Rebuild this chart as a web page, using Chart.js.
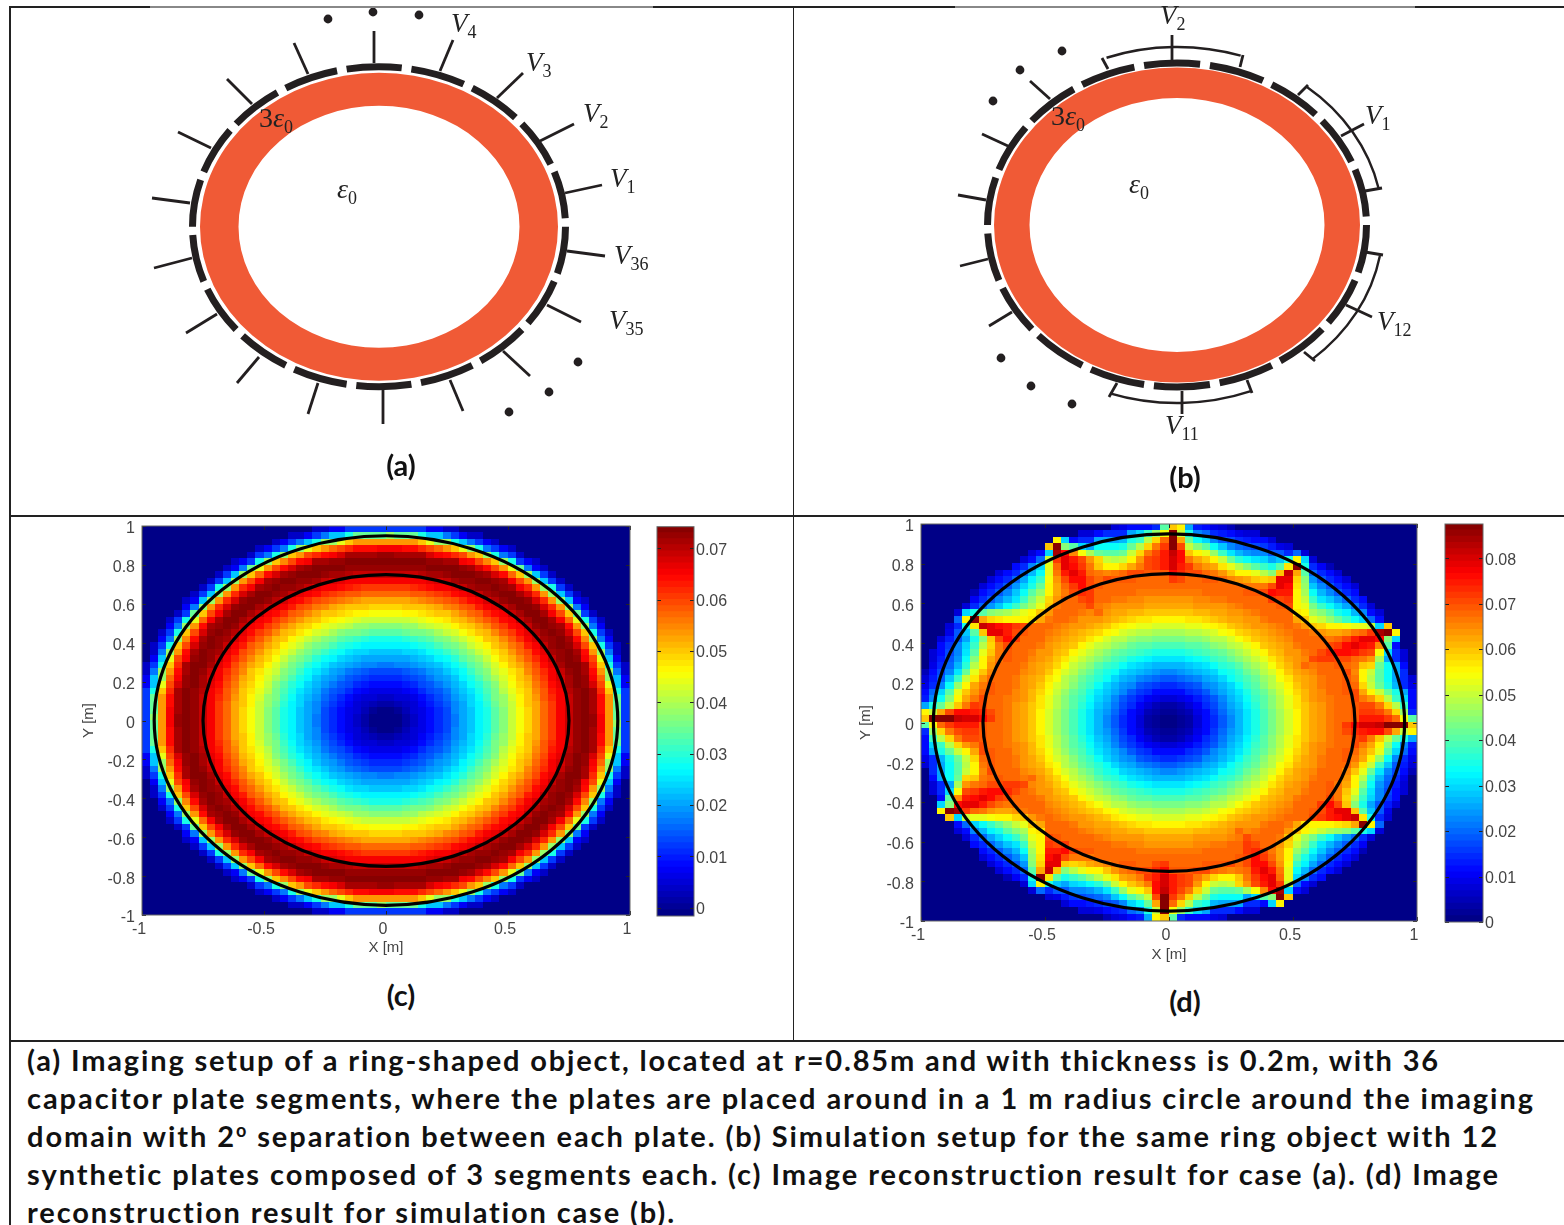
<!DOCTYPE html>
<html><head><meta charset="utf-8">
<script src="https://cdn.jsdelivr.net/npm/chart.js@4/dist/chart.umd.js"></script>
<style>
html,body{margin:0;padding:0;background:#fff}
body{width:1564px;height:1225px;position:relative;overflow:hidden}
canvas{position:absolute;display:block}
.rule{position:absolute;background:#222}
.m{position:absolute;font-family:"Liberation Serif",serif;font-size:27px;line-height:1;color:#222;white-space:nowrap}
.m i{font-style:italic}
.m span{font-size:18px;position:relative;top:6px;margin-left:0}
.tag{position:absolute;font-family:Lato,sans-serif;font-weight:700;font-size:29px;line-height:1;color:#111;transform:translate(-50%,-50%);white-space:nowrap}
.cap{position:absolute;left:27px;font-family:Lato,sans-serif;font-weight:700;font-size:29px;line-height:1;color:#111;white-space:nowrap;transform:translateY(-50%)}
.cap sup{font-size:18px;line-height:0;vertical-align:10px}
</style></head><body>
<script>
/* ---------- data ---------- */
const plateCentres=[11.5,31.5,51.5,71.5,91.5,111.5,131.5,151.5,171.5,191.5,211.5,231.5,251.5,271.5,291.5,311.5,331.5,351.5];
const plateHalfSpan=8.5;
const wiresA=[[374,63,374,31],[308,74,294,43],[252,104,227,79],[211,148,178,132],[190,203,152,198],[192,258,154,268],[217,314,186,333],[259,357,237,383],[318,383,308,414],[383,390,383,424],[450,380,463,411],[503,351,530,376],[547,305,581,322],[567,251,605,256],[565,193,602,185],[540,141,574,124],[497,98,523,73],[440,71,453,40]];
const dotsA=[[328,19],[373,12],[419,15],[578,362],[549,392],[509,412]];
const wiresB=[[1172,63,1172,35],[1050,99,1030,81],[1008,146,982,134],[986,200,958,195],[988,259,960,266],[1012,312,989,326],[1182,391,1182,414],[1346,305,1372,317],[1341,136,1364,124],
 [1108,69,1102,58],[1243,55,1240,67],[1298,95,1308,85],[1382,188,1365,191],[1365,252,1383,255],[1315,361,1304,352],[1117,383,1109,397],[1252,393,1247,380]];
const dotsB=[[993,101],[1020,70],[1062,51],[1001,358],[1031,386],[1072,404]];
const bracketArcs=[[72,110],[12,51],[-49,-10],[-109,-69]];
const ringA={cx:379,cy:226.7,outer:[179,154],inner:[140.5,121],plates:[186.5,160]};
const ringB={cx:1177,cy:225,outer:[183,157.5],inner:[147.5,127],plates:[189.5,162],brackets:[206,178]};
const circleRadii=[0.95,0.75];
const xTicks=[-1,-0.5,0,0.5,1];
const yTicks=[-1,-0.8,-0.6,-0.4,-0.2,0,0.2,0.4,0.6,0.8,1];

/* upper-left quadrant of each reconstruction, rows top to centre, columns edge to centre, values x 1000 */
const fieldC=[
[0,0,0,0,0,0,0,0,0,0,0,0,0,0,0,0,0,0,0,0,0,5,5,9,9,13,13,13,13,13],
[0,0,0,0,0,0,0,0,0,0,0,0,0,0,0,0,0,0,5,5,9,13,18,24,24,30,35,35,35,35],
[0,0,0,0,0,0,0,0,0,0,0,0,0,0,0,0,5,9,13,18,24,30,39,39,45,50,54,54,54,54],
[0,0,0,0,0,0,0,0,0,0,0,0,0,0,5,9,13,18,30,39,45,50,54,57,60,62,64,64,64,65],
[0,0,0,0,0,0,0,0,0,0,0,0,0,5,13,18,30,39,50,54,60,62,64,66,68,71,71,71,71,72],
[0,0,0,0,0,0,0,0,0,0,0,5,9,13,30,39,50,55,60,64,66,71,71,73,73,74,74,74,74,74],
[0,0,0,0,0,0,0,0,0,0,5,9,18,35,45,54,60,64,68,71,73,74,74,74,74,73,73,73,73,73],
[0,0,0,0,0,0,0,0,0,5,13,24,39,50,57,64,68,71,73,74,74,74,73,71,71,70,69,69,69,69],
[0,0,0,0,0,0,0,0,5,13,24,39,54,60,65,71,73,74,74,73,72,71,69,68,67,66,65,65,65,65],
[0,0,0,0,0,0,0,5,13,30,39,54,62,66,71,73,74,73,72,71,69,67,65,65,64,63,62,61,61,61],
[0,0,0,0,0,0,5,13,24,39,54,62,68,71,74,74,73,71,69,67,65,64,62,61,60,59,58,57,57,57],
[0,0,0,0,0,5,9,24,39,54,62,68,73,74,74,72,70,68,65,64,62,60,58,57,56,55,54,53,53,53],
[0,0,0,0,0,9,18,39,54,62,68,73,74,74,71,69,67,65,63,60,58,56,55,53,52,51,50,50,49,49],
[0,0,0,0,5,13,35,50,60,66,71,74,74,71,69,66,64,62,59,57,55,53,51,50,49,48,47,47,46,46],
[0,0,0,5,13,30,45,57,65,71,74,74,71,69,66,64,61,58,56,54,52,50,48,47,46,45,43,42,42,42],
[0,0,0,9,18,39,54,64,71,73,74,72,69,66,64,61,58,55,53,50,49,47,45,43,42,41,39,39,38,38],
[0,0,5,13,30,50,60,68,73,74,73,70,67,64,61,58,55,52,50,48,46,43,42,40,38,37,36,35,34,34],
[0,0,9,18,39,55,64,71,74,73,71,68,65,62,58,55,52,50,47,45,42,40,38,36,34,33,32,31,30,30],
[0,5,13,30,50,60,68,73,74,72,69,65,63,59,56,53,50,47,45,42,39,37,35,33,31,29,28,27,27,27],
[0,5,18,39,54,64,71,74,73,71,67,64,60,57,54,50,48,45,42,39,37,34,32,29,28,26,25,25,24,24],
[0,9,24,45,60,66,73,74,72,69,65,62,58,55,52,49,46,42,39,37,34,31,28,27,25,24,23,22,21,21],
[5,13,30,50,62,71,74,74,71,67,64,60,56,53,50,47,43,40,37,34,31,28,26,24,23,21,20,19,19,18],
[5,18,39,54,64,71,74,73,69,65,62,58,55,51,48,45,42,38,35,32,28,26,24,22,20,18,17,16,15,15],
[9,24,39,57,66,73,74,71,68,65,61,57,53,50,47,43,40,36,33,29,27,24,22,20,18,16,14,13,12,12],
[9,24,45,60,68,73,74,71,67,64,60,56,52,49,46,42,38,34,31,28,25,23,20,18,16,14,12,11,10,10],
[13,30,50,62,71,74,73,70,66,63,59,55,51,48,45,41,37,33,29,26,24,21,18,16,14,12,10,9,8,7],
[13,35,54,64,71,74,73,69,65,62,58,54,50,47,43,39,36,32,28,25,23,20,17,14,12,10,8,6,6,5],
[13,35,54,64,71,74,73,69,65,61,57,53,50,47,42,39,35,31,27,25,22,19,16,13,11,9,6,5,4,3],
[13,35,54,65,71,74,73,69,65,61,57,53,49,46,42,38,34,30,27,24,21,19,15,12,10,8,6,4,2,1],
[13,39,54,65,72,74,73,69,65,61,57,53,49,46,42,38,34,30,27,24,21,18,15,12,10,7,5,3,1,0]];
const fieldD=[
[0,0,0,0,0,0,0,0,0,0,0,0,0,0,0,0,0,0,0,0,0,0,0,7,9,11,11,12,15,40],
[0,0,0,0,0,0,0,0,0,0,0,0,0,0,0,0,0,0,0,7,7,11,15,15,15,25,30,38,46,54],
[0,0,0,0,0,0,0,0,0,0,0,0,0,0,0,0,55,30,12,15,15,25,25,25,27,35,38,48,58,68],
[0,0,0,0,0,0,0,0,0,0,0,0,0,0,0,60,87,45,40,30,25,33,33,33,35,42,48,58,66,72],
[0,0,0,0,0,0,0,0,0,0,0,0,0,7,11,30,84,76,65,54,47,42,40,40,42,50,58,66,70,74],
[0,0,0,0,0,0,0,0,0,0,0,0,7,11,20,50,72,78,74,70,64,58,50,48,50,56,64,70,72,74],
[0,0,0,0,0,0,0,0,0,0,0,11,15,22,30,52,68,78,76,72,66,60,56,56,58,62,66,70,72,74],
[0,0,0,0,0,0,0,0,0,7,11,15,20,26,33,52,66,74,78,74,68,66,65,66,68,70,70,69,69,69],
[0,0,0,0,0,0,0,0,7,11,15,20,25,32,38,54,64,70,76,76,70,68,70,69,69,69,68,68,68,68],
[0,0,0,0,0,0,0,7,11,15,19,24,30,35,42,55,62,67,72,76,71,69,68,68,68,68,68,67,67,67],
[0,0,0,0,0,0,5,11,15,19,23,28,33,40,46,56,62,66,70,73,72,68,68,67,67,67,66,66,66,66],
[0,0,0,0,0,0,10,14,18,22,26,31,37,44,50,58,64,67,68,70,72,67,67,66,66,65,65,64,64,64],
[0,0,0,0,0,7,15,20,24,28,33,38,43,47,52,60,66,68,68,67,70,66,65,64,64,63,63,62,62,62],
[0,0,0,0,7,30,35,40,44,46,47,50,52,55,60,64,67,68,67,66,65,67,63,62,62,61,61,60,60,60],
[0,0,0,0,20,55,87,62,58,57,56,56,56,57,62,66,67,67,66,64,64,63,62,61,60,58,57,57,56,56],
[0,0,0,7,15,35,57,82,78,76,74,72,70,68,68,67,66,65,64,63,62,61,59,57,56,54,53,52,51,51],
[0,0,0,9,18,28,40,60,78,78,74,71,69,68,67,66,65,64,62,61,60,58,56,54,51,50,49,48,47,47],
[0,0,7,13,18,25,35,45,60,70,76,72,68,67,67,65,64,62,61,60,57,54,51,49,48,46,45,44,43,43],
[0,0,11,16,22,30,38,48,58,66,70,68,68,67,66,64,62,61,59,56,53,50,48,46,44,42,41,40,39,39],
[0,7,12,17,23,31,40,52,60,66,69,68,67,66,64,63,61,60,56,53,50,47,45,42,40,39,37,36,35,35],
[0,7,13,18,24,33,44,55,62,66,69,68,67,65,64,62,60,57,53,50,47,44,42,39,37,35,33,32,31,31],
[0,9,15,20,27,36,48,56,63,67,68,67,66,64,62,61,58,54,50,47,44,41,38,36,33,31,30,28,27,27],
[5,11,17,23,31,42,52,60,65,68,68,67,65,63,62,59,56,51,48,45,42,38,35,33,30,28,26,25,24,23],
[7,13,19,28,38,50,57,63,68,68,67,66,64,62,61,57,54,49,46,42,39,36,33,30,27,25,23,21,20,19],
[9,15,23,33,46,56,62,66,69,68,67,66,64,62,60,56,51,48,44,40,37,33,30,27,24,22,19,17,16,15],
[11,20,30,40,52,60,64,68,69,68,67,65,63,61,58,54,50,46,42,39,35,31,28,25,22,19,16,14,12,11],
[13,23,34,45,56,62,66,70,68,68,66,65,63,61,57,53,49,45,41,37,33,30,26,23,19,16,13,10,9,8],
[25,35,42,50,60,66,72,71,68,67,66,64,62,60,57,52,48,44,40,36,32,28,25,21,17,14,10,8,5,4],
[55,50,62,70,76,76,75,73,70,67,66,64,62,60,56,51,47,43,39,35,31,27,24,20,16,12,9,5,3,2],
[60,87,87,87,82,80,80,76,72,68,66,64,62,60,56,51,47,43,39,35,31,27,23,19,15,11,8,4,2,1]];
const colourMaxC=0.0742, colourMinC=-0.0016, colourMaxD=0.0875, colourMinD=0;

/* ---------- helpers ---------- */
Chart.defaults.font.family='"Liberation Sans",sans-serif';
function jet(t){t=Math.min(.9999,Math.max(0,t));t=(Math.floor(t*64)+.5)/64;
  const f=k=>Math.round(255*Math.min(1,Math.max(0,1.5-Math.abs(4*t-k))));
  return `rgb(${f(3)},${f(2)},${f(1)})`;}
function addCanvas(left,top,w,h){const c=document.createElement('canvas');c.width=w;c.height=h;
  c.style.left=left+'px';c.style.top=top+'px';c.style.width=w+'px';c.style.height=h+'px';document.body.appendChild(c);return c;}
function expand(q){const g=Array.from({length:60},()=>new Array(60).fill(0));
  q.forEach((row,r)=>row.forEach((v,c)=>{g[r][c]=v;g[c][59-r]=v;g[59-r][59-c]=v;g[59-c][r]=v;}));return g;}
function toPoints(q){const pts=[];expand(q).forEach((row,r)=>row.forEach((v,c)=>pts.push({x:(c+.5)/30-1,y:1-(r+.5)/30,v:v/1000})));return pts;}
const base={responsive:false,maintainAspectRatio:false,animation:false,events:[]};
const noPlug={legend:{display:false},tooltip:{enabled:false}};
function fmt(v){const r=Math.round(v*10)/10;return String(r);}
const noPad=s=>{s.paddingTop=0;s.paddingBottom=0;s.paddingLeft=0;s.paddingRight=0;};

function inward(scale,len,ctx,a){ctx.strokeStyle='#222';ctx.lineWidth=1;
  scale.ticks.forEach(t=>{const p=Math.round(scale.getPixelForValue(t.value))+.5;ctx.beginPath();
    if(scale.isHorizontal()){ctx.moveTo(p,a.top);ctx.lineTo(p,a.top+len);ctx.moveTo(p,a.bottom);ctx.lineTo(p,a.bottom-len);}
    else{ctx.moveTo(a.left,p);ctx.lineTo(a.left+len,p);ctx.moveTo(a.right,p);ctx.lineTo(a.right-len,p);}
    ctx.stroke();});}
const framePlugin={id:'frame',afterDraw(ch){const a=ch.chartArea,ctx=ch.ctx;ctx.save();
  Object.values(ch.scales).forEach(s=>{if(s.type==='linear')inward(s,4,ctx,a);});
  ctx.strokeStyle='#666';ctx.lineWidth=1;ctx.strokeRect(a.left,a.top,a.right-a.left,a.bottom-a.top);ctx.restore();}};
const circlePlugin={id:'circles',afterDatasetsDraw(ch){const {x,y}=ch.scales,ctx=ch.ctx;ctx.save();ctx.strokeStyle='#000';ctx.lineWidth=3.2;
  circleRadii.forEach(r=>{ctx.beginPath();
    ctx.ellipse(x.getPixelForValue(0),y.getPixelForValue(0),Math.abs(x.getPixelForValue(r)-x.getPixelForValue(0)),Math.abs(y.getPixelForValue(r)-y.getPixelForValue(0)),0,0,Math.PI*2);ctx.stroke();});ctx.restore();}};

function heatmap(box,field,vmax){
  const {left,top,w,h,axisW,cellW,cellH,padTop,padRight,titleX,titleY}=box;
  const cache={};
  const cell=v=>{const k=Math.floor(Math.min(.9999,v/vmax)*64);if(!cache[k]){const c=document.createElement('canvas');c.width=cellW;c.height=cellH;
    const g=c.getContext('2d');g.fillStyle=jet(v/vmax);g.fillRect(0,0,cellW,cellH);cache[k]=c;}return cache[k];};
  new Chart(addCanvas(left,top,w,h),{type:'scatter',data:{datasets:[{data:toPoints(field),pointRadius:1,pointBorderWidth:0,
      pointStyle:c=>c.raw?cell(c.raw.v):'rect'}]},
    options:{...base,layout:{autoPadding:false,padding:{top:padTop,right:padRight,left:0,bottom:0}},plugins:noPlug,
      scales:{
       x:{type:'linear',min:-1,max:1,afterBuildTicks:s=>{s.ticks=xTicks.map(value=>({value}));},afterFit:s=>{s.height=50;noPad(s);},
          grid:{display:false,drawTicks:false},border:{display:false},
          ticks:{color:'#444',font:{size:16},padding:5,labelOffset:-3,maxRotation:0,autoSkip:false,callback:fmt},
          title:{display:true,text:'X [m]',color:'#444',font:{size:15},padding:{top:0,bottom:titleY}}},
       y:{type:'linear',min:-1,max:1,afterBuildTicks:s=>{s.ticks=yTicks.map(value=>({value}));},afterFit:s=>{s.width=axisW;noPad(s);},
          grid:{display:false,drawTicks:false},border:{display:false},
          ticks:{color:'#444',font:{size:16},padding:7,labelOffset:3,autoSkip:false,callback:fmt},
          title:{display:true,text:'Y [m]',color:'#444',font:{size:15},padding:{top:titleX,bottom:0}}}}},
    plugins:[circlePlugin,framePlugin]});
}
function colourbar(box,vmin,vmax){
  const {left,top,w,h,padLeft,padTop,padBottom}=box;
  const bands=[];for(let i=0;i<64;i++){const lo=vmin+(vmax-vmin)*i/64,hi=vmin+(vmax-vmin)*(i+1.05)/64;bands.push({data:[[lo,Math.min(hi,vmax)]],backgroundColor:jet((i+.5)/64),
     barPercentage:1,categoryPercentage:1,grouped:false,borderWidth:0});}
  new Chart(addCanvas(left,top,w,h),{type:'bar',data:{labels:['colour'],datasets:bands},
    options:{...base,layout:{autoPadding:false,padding:{left:padLeft,top:padTop,bottom:padBottom,right:0}},plugins:noPlug,
      scales:{x:{display:false},
        y:{type:'linear',position:'right',min:vmin,max:vmax,afterFit:s=>{s.width=44;noPad(s);},grid:{display:false,drawTicks:false},border:{display:false},
           ticks:{stepSize:.01,includeBounds:false,color:'#444',font:{size:16},padding:2,labelOffset:2,callback:v=>Math.abs(v)<1e-9?'0':v.toFixed(2)}}}},
    plugins:[framePlugin]});
}
function schematic(box,ring,wires,dots){
  const {left,top,w,h}=box;
  const ringPlugin={id:'ring',beforeDatasetsDraw(ch){const {x,y}=ch.scales,ctx=ch.ctx;
    const cx=x.getPixelForValue(ring.cx),cy=y.getPixelForValue(ring.cy);
    const rx=v=>Math.abs(x.getPixelForValue(ring.cx+v)-cx),ry=v=>Math.abs(y.getPixelForValue(ring.cy+v)-cy);
    ctx.save();ctx.fillStyle='#F05A36';ctx.beginPath();
    ctx.ellipse(cx,cy,rx(ring.outer[0]),ry(ring.outer[1]),0,0,Math.PI*2);
    ctx.moveTo(cx+rx(ring.inner[0]),cy);
    ctx.ellipse(cx,cy,rx(ring.inner[0]),ry(ring.inner[1]),0,0,Math.PI*2);ctx.fill('evenodd');
    ctx.strokeStyle='#231F20';ctx.lineWidth=7;
    plateCentres.forEach(t=>{ctx.beginPath();ctx.ellipse(cx,cy,rx(ring.plates[0]),ry(ring.plates[1]),0,-(t+plateHalfSpan)*Math.PI/180,-(t-plateHalfSpan)*Math.PI/180);ctx.stroke();});
    if(ring.brackets){ctx.lineWidth=2.4;bracketArcs.forEach(([a,b])=>{ctx.beginPath();ctx.ellipse(cx,cy,rx(ring.brackets[0]),ry(ring.brackets[1]),0,-b*Math.PI/180,-a*Math.PI/180);ctx.stroke();});}
    ctx.restore();}};
  const ds=wires.map(([a,b,c,d])=>({data:[{x:a,y:b},{x:c,y:d}],showLine:true,pointRadius:0,borderColor:'#231F20',borderWidth:2.8}));
  ds.push({data:dots.map(([a,b])=>({x:a,y:b})),showLine:false,pointRadius:4.4,pointBorderWidth:0,backgroundColor:'#231F20'});
  new Chart(addCanvas(left,top,w,h),{type:'scatter',data:{datasets:ds},
    options:{...base,layout:{autoPadding:false,padding:0},plugins:noPlug,
      scales:{x:{type:'linear',display:false,min:left,max:left+w},y:{type:'linear',display:false,reverse:true,min:top,max:top+h}}},
    plugins:[ringPlugin]});
}

/* ---------- charts ---------- */
schematic({left:11,top:8,w:781,h:507},ringA,wiresA,dotsA);
schematic({left:795,top:8,w:769,h:507},ringB,wiresB,dotsB);
heatmap({left:70,top:518,w:570,h:447,axisW:72,cellW:9,cellH:7,padTop:8,padRight:10,titleX:9.6,titleY:8.6},fieldC,colourMaxC);
heatmap({left:850,top:518,w:575,h:453,axisW:71,cellW:9,cellH:8,padTop:6,padRight:8,titleX:6.6,titleY:7.6},fieldD,colourMaxD);
colourbar({left:650,top:518,w:88,h:407,padLeft:7,padTop:8.7,padBottom:9},colourMinC,colourMaxC);
colourbar({left:1438,top:518,w:89,h:412,padLeft:7,padTop:6,padBottom:8},colourMinD,colourMaxD);

/* ---------- table rules ---------- */
function rule(x,y,w,h,c){const d=document.createElement('div');d.className='rule';d.style.cssText=`left:${x}px;top:${y}px;width:${w}px;height:${h}px;background:${c||'#222'}`;document.body.appendChild(d);}
rule(9,6,141,1.5);rule(150,6,503,1.5,'#888');rule(653,6,302,1.5);rule(955,6,460,1.5,'#888');rule(1415,6,149,1.5);
rule(9,6,1.5,1219);rule(792.5,6,1.5,1034);rule(9,515,1555,1.5);rule(9,1040,1555,1.5);

/* ---------- text ---------- */
function math(x,base,html,size){const d=document.createElement('div');d.className='m';d.innerHTML=html;
  const s=size||27;d.style.fontSize=s+'px';d.style.left=x+'px';d.style.top=(base-.8375*s)+'px';document.body.appendChild(d);}
[[451,33,'4'],[526,72,'3'],[583,123,'2'],[610,188,'1'],[614,265,'36'],[609,330,'35'],
 [1160,25,'2'],[1365,125,'1'],[1377,331,'12'],[1165,435,'11']].forEach(([x,b,s])=>math(x,b,`<i>V</i><span>${s}</span>`));
[[259,127],[1051,125]].forEach(([x,b])=>math(x,b,'3<i>ε</i><span>0</span>',28));
[[337,198],[1129,193]].forEach(([x,b])=>math(x,b,'<i>ε</i><span>0</span>',28));
[['(a)',401,464],['(b)',1185,476],['(c)',401,994],['(d)',1185,1000]].forEach(([t,x,y])=>{const d=document.createElement('div');d.className='tag';d.textContent=t;d.style.left=x+'px';d.style.top=y+'px';document.body.appendChild(d);});
const captionLines=[
 ['(a) Imaging setup of a ring-shaped object, located at r=0.85m and with thickness is 0.2m, with 36',1059,1413],
 ['capacitor plate segments, where the plates are placed around in a 1 m radius circle around the imaging',1097,1508],
 ['domain with 2<sup>o</sup> separation between each plate. (b) Simulation setup for the same ring object with 12',1135,1473],
 ['synthetic plates composed of 3 segments each. (c) Image reconstruction result for case (a). (d) Image',1173,1474],
 ['reconstruction result for simulation case (b).',1211,650]];
captionLines.forEach(([t,y,target])=>{const d=document.createElement('div');d.className='cap';d.innerHTML=t;d.style.top=y+'px';document.body.appendChild(d);
  const n=d.textContent.length;d.style.letterSpacing=((target-d.getBoundingClientRect().width)/n)+'px';});
</script>
</body></html>
